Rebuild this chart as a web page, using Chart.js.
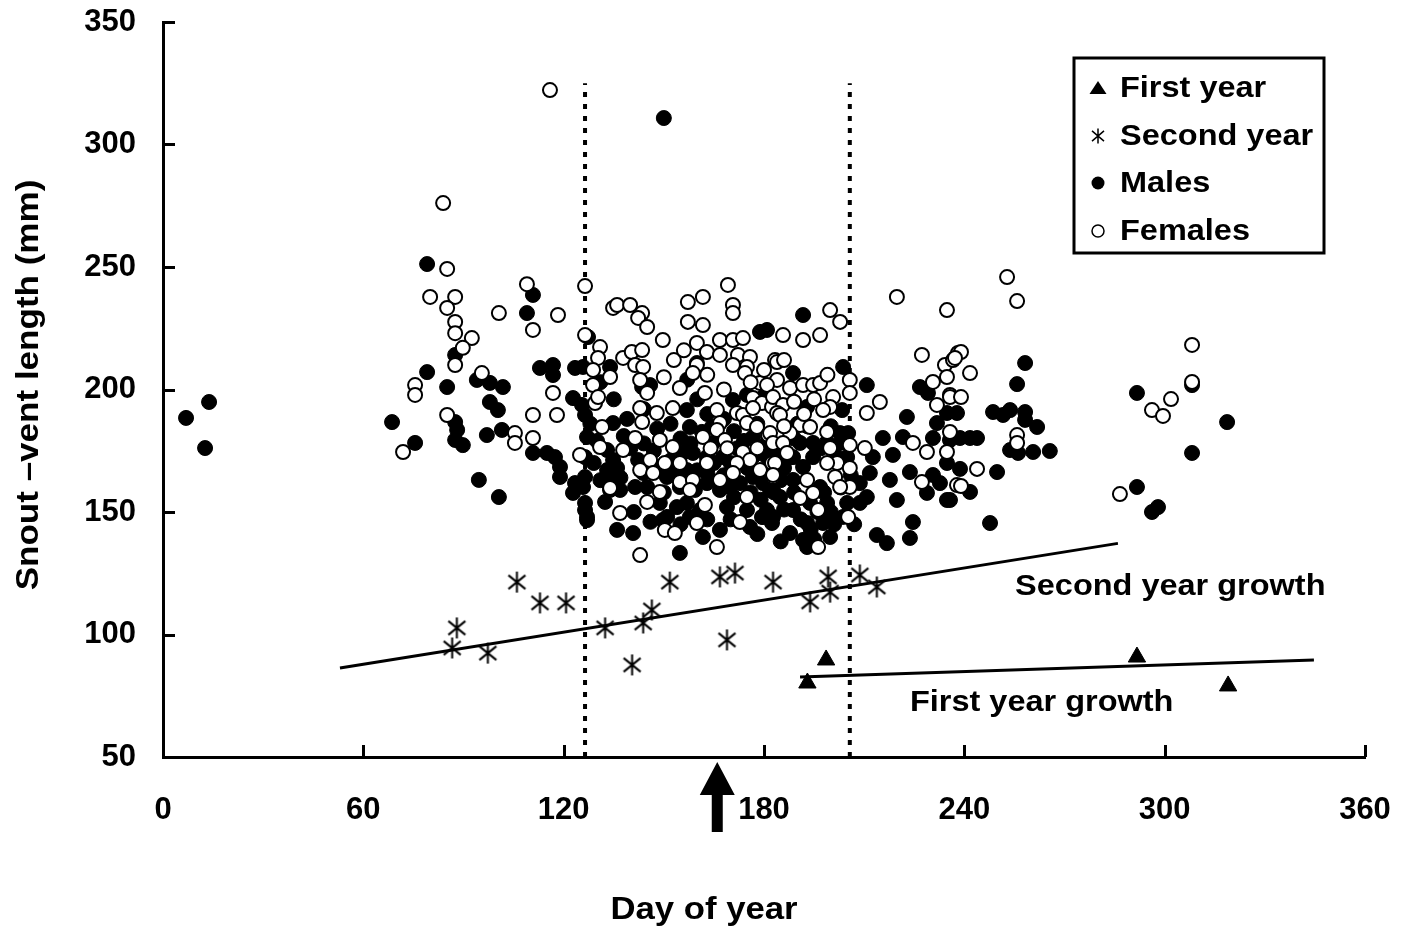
<!DOCTYPE html>
<html><head><meta charset="utf-8">
<script src="https://cdn.jsdelivr.net/npm/chart.js@4.4.1/dist/chart.umd.min.js"></script>
<style>html,body{margin:0;padding:0;background:#fff;}</style>
</head><body>
<canvas id="c" width="1408" height="928"></canvas>
<script>
// ---------- data ----------
const xTicks = [0, 60, 120, 180, 240, 300, 360];
const yTicks = [50, 100, 150, 200, 250, 300, 350];

const males = [
[6.9,188.4],[13.8,194.9],[12.6,176.1],[68.6,186.7],[75.5,178.2],[79.1,251.2],[79.1,207.1],[87.5,214.1],[85.1,201],[87.5,186.7],
[88.1,183.5],[87.5,179.4],[89.8,177.3],[94.6,163.1],[94,203.9],[97.9,202.7],[101.8,201],[97.9,194.9],[100.3,191.6],[97,181.4],
[101.5,183.5],[100.6,156.1],[110.8,238.6],[109,231.2],[112.9,208.8],[116.8,210],[116.8,205.9],[123.4,208.8],[122.8,196.5],[125.5,193.7],
[126.4,189.6],[110.8,174.1],[115,174.1],[117.4,172.4],[118.9,168.4],[118.9,164.3],[123.4,161.8],[122.8,157.8],[127,180.6],[126.4,150.8],
[127,146.7],[150,310.8],
[180.9,224.3],[178.8,223.5],[127.3,221.4],[125.8,209.2],[133.9,209.2],[134.8,186.3],[159.9,210.8],[143.5,201],[145.9,201.8],[156.9,191.6],
[170.7,195.7],[174.9,197.8],[157.8,184.7],[161.4,182.7],[164.4,184.7],[164.7,178.2],[155.7,174.1],[158.7,174.1],[162.9,172.4],[167.7,172.4],
[176.7,180.6],[180.9,178.2],[126.4,172.4],[133,175.3],[134.8,171.2],[133,167.1],[134.8,163.1],[142.3,171.2],[143.8,165.9],[126.4,164.3],
[125.8,160.2],[133.9,159],[136.9,159],[141.4,160.2],[145,160.2],[150.9,164.3],[153.9,167.1],[156.9,167.1],[154.8,160.2],[159.3,159],
[162.9,161.8],[166.8,159],[169.8,160.2],[172.8,161.8],[176.7,164.3],[179.7,161.8],[181.8,159],[148.8,153.7],[153.9,152],[156.9,153.7],
[160.8,150.8],[168.9,152],[174.9,150.8],[180.9,150.8],[132.4,154.1],[126.4,153.7],[127,148],[140.8,141.4],[136,142.7],[149.7,146.7],
[157.8,148],[161.7,139.8],[166.8,142.7],[175.8,143.9],[179.4,148],[182.4,145.5],[154.8,133.3],
[191.7,230.4],[203.7,209.2],[210.8,201.8],[188.7,206.7],[179.7,196.9],[192.9,192.9],[203.4,191.6],[205.2,182.2],[222.8,188.8],[215.6,180.2],
[221.6,180.6],[226.7,201],[229.1,198.6],[231.8,186.3],[237.8,190.4],[230.6,180.2],[235.7,179.4],[234.8,170],[230.6,165.1],[232.7,161.8],
[235.7,154.9],[228.8,157.8],[223.7,166.3],[217.7,163.1],[224.6,145.9],[223.7,139.4],[213.8,140.6],[216.8,137.3],[208.7,161.8],[211.7,165.9],
[212.6,172.4],[210.8,156.1],[208.7,153.7],[187.8,141.4],[191.7,138.6],[192.9,135.7],[199.8,139.8],[182.7,148],[179.7,148],[188.7,150.8],
[193.8,153.7],[198.9,153.7],[196.8,160.2],[188.7,163.1],[191.7,168.4],[194.7,172.4],[188.7,172.4],[180.9,172.4],[180.9,161.8],[202.8,182.2],
[202.8,178.2],[201.9,172.4],[204.9,172.4],[190.8,178.2],[194.7,178.2],[198.9,178.6],[184.8,156.1],[203.7,148],[197.7,145.5],[192.9,145.5],
[204.9,153.7],[218.6,173.3],[219.8,154.9],
[258.2,210.8],[255.8,202.2],[248.6,190.8],[253.7,191.6],[258.2,190.8],[258.2,187.6],[261.8,184.7],[251.6,189.6],[238.7,180.2],[241.7,180.2],
[243.8,180.2],[253.7,175.3],[256.1,174.1],[260.6,174.5],[265.6,174.9],[238.7,167.6],[249.8,166.3],[241.7,158.2],[234.8,154.9],[247.7,145.5],
[291.7,198.6],[291.7,160.2],[234.8,190.4],[318.7,186.7],[308.2,174.1],[308.2,201.8],[296.2,150],[298,152],
[129,170],[131,163],[136,168],[138,181],[140,176],[144,178],[147,175],[149,168],[150,158],[152,171],
[155,180],[158,178],[160,167],[163,166],[165,170],[168,165],[170,170],[172,176],[175,168],[177,173],
[179,155],[183,158],[185,163],[186,168],[189,158],[191,147],[194,143],[196,150],[198,158],[200,150],
[201,145],[203,160],[206,165],[207,145],[189,180],[193,185],[197,176],[200,185],[186,151],[184,175],
[178,186],[174,179],[171,183],[168,188],[163,190],[160,196],[157,204],[152,186],[148,184],[144,192],
[139,188],[135,196],[131,203],[128,186],[130,179],[137,164],[141,150],[146,146],[151,148],[155,145],
[163,147],[170,147],[178,141],[185,138],[195,139],[171,156],[176,158],[187,172],[190,186]
];

const females = [
[80,237.8],[87.5,237.8],[85.1,233.3],[87.5,227.6],[87.5,223],[92.5,221],[89.8,217],[87.5,210],[75.5,201.8],[75.5,197.8],
[95.5,206.7],[85.1,189.6],[105.4,182.2],[105.4,178.2],[110.8,180.2],[110.8,189.6],[118,189.6],[116.8,198.6],[100.6,231.2],[110.8,224.3],
[118.3,230.4],[126.4,222.2],[71.9,174.5],[124.9,173.3],[115.9,322.2],[83.9,276.1],[85.1,249.2],[109,243],[126.4,242.2],
[134.8,233.3],[136,234.5],[139.9,234.5],[143.5,231.2],[142.3,229.2],[145,225.5],[130.9,217.3],[133.9,205.1],[130.3,212.9],[128.8,208],
[137.8,212.9],[140.4,215.3],[143.5,216.1],[141.4,210],[143.8,209.2],[142.9,203.9],[145,198.6],[128.8,201.8],[129.4,194.5],[130.3,196.9],
[149.7,220.2],[154.8,200.6],[142.9,192.4],[143.5,186.7],[147.9,190.4],[152.7,192.4],[131.5,184.7],[141.4,180.2],[148.8,179.4],[152.7,176.5],
[130.9,176.5],[137.8,175.3],[145.9,171.2],[142.9,167.1],[146.8,165.9],[150.3,170],[154.8,162.2],[148.8,158.2],[145,154.1],[133.9,159.8],
[136.9,149.6],[150.3,142.7],[153.3,141.4],[142.9,132.4],[157.2,235.7],[161.7,237.8],[157.2,227.6],[161.7,226.3],[169.2,242.7],[170.7,234.5],
[170.7,231.2],[159.9,219],[162.9,215.3],[166.8,220.2],[166.8,214.1],[170.7,220.2],[173.7,221],[172.2,214.1],[175.8,213.3],[174.9,209.2],
[170.7,210],[174.3,206.7],[159.9,210],[158.7,206.7],[178.8,202.7],[162.3,198.6],[165.9,191.6],[166.8,186.3],[171.9,190.4],[173.7,189.6],
[176.7,196.5],[179.4,194.5],[176.7,192.4],[174.9,186.3],[177.9,184.7],[182.4,192.9],[183.3,212],[165.9,183.5],[161.7,180.6],[168.3,179.4],
[173.7,174.5],[175.8,171.2],[171.9,170],[178.8,167.1],[181.2,181.4],[182.4,170],[182.7,164.3],[162.9,170],[158.7,163.1],[166.8,163.1],
[170.7,165.9],[174.9,156.1],[157.8,159],[162.3,152.9],[159.9,145.5],[172.8,145.9],[165.9,135.7],[154.8,170],
[219.8,237.8],[234.8,232.4],[199.8,232.4],[202.8,227.6],[185.7,222.2],[191.7,220.2],[196.8,222.2],[183.9,211.2],[227.3,214.1],[234.2,210],
[238.1,214.9],[236.6,212],[230.6,203.1],[234.8,205.1],[235.7,197.8],[231.8,193.7],[214.7,194.9],[210.8,190.4],[183.9,203.9],[180.9,201.8],
[187.8,200.6],[191.7,201.8],[194.7,201.8],[196.8,202.7],[205.7,203.9],[205.7,198.6],[182.7,196.9],[185.7,193.7],[183.9,190.4],[184.8,189.6],
[200.7,196.9],[199.8,192.9],[197.7,191.6],[190.8,185.5],[193.8,184.7],[187.8,182.2],[181.8,182.2],[198.9,182.7],[182.7,178.2],[185.7,178.2],
[186.9,174.1],[183.3,170],[182.7,165.1],[199.8,176.1],[201.9,170],[198.9,170],[201.3,164.3],[205.7,177.3],[210.2,176.1],[228.8,174.5],
[234.8,174.5],[224.6,178.2],[235.7,182.7],[227.3,162.2],[205.7,168],[205.7,160.2],[192.9,163.1],[194.7,157.8],[190.8,155.7],[202.8,160.2],
[196.2,150.8],[205.2,148],[196.2,135.7],[237.8,161],
[252.8,245.9],[255.8,236.1],[239,215.3],[237.2,212.9],[241.7,206.7],[235.7,196.9],[239,196.9],[255.8,181.4],[255.8,178.2],[243.8,167.6],
[239,160.6],[286.6,157.3],[308.2,218.2],[308.2,203.1],[301.9,196.1],[296.2,191.6],[299.5,189.2],
[150,205],[153,212],[156,216],[163,206],[168,200],[176,203],[180,208],[186,212],[189,195],[164,176],
[169,176],[178,176],[186,185],[192,190],[195,196],[199,206]
];

const secondYear = [
[88,102.7],[86.6,94.5],[97.3,92.4],[106,121.4],[112.9,112.9],[120.7,112.9],[132.4,102.7],[140.5,87.6],[143.8,104.7],[146.4,110],
[151.8,121.4],[166.8,123.5],[171.3,125.1],[168.9,97.8],[182.7,121.4],[193.8,113.3],[199.2,123.5],[199.8,117.3],[208.7,124.3],[213.8,119.4]
];
const firstYear = [[193,80.2],[198.6,89.6],[291.7,90.8],[319,79]];

const secondYearGrowth = [[53,86.3],[286,137.2]];
const firstYearGrowth = [[190.8,82.7],[344.7,89.6]];
const periodBounds = [126.4, 205.7];
const periodRange = [50, 325];
const arrowDay = 166;

const legendLabels = ['First year', 'Second year', 'Males', 'Females'];
const growthLabels = [
  {text: 'Second year growth', day: 255.2, svl: 119.4},
  {text: 'First year growth', day: 223.7, svl: 72}
];
const xTitle = 'Day of year';
const yTitle = 'Snout \u2013vent length (mm)';

// ---------- helpers ----------
const FONT = '"Liberation Sans", Arial, Helvetica, sans-serif';
const toPts = arr => arr.map(p => ({x: p[0], y: p[1]}));

function makeStar(w, h, lw) {
  const c = document.createElement('canvas');
  c.width = w; c.height = h;
  const g = c.getContext('2d');
  drawStar(g, w / 2, h / 2, w, h, lw);
  return c;
}
function drawStar(g, cx, cy, w, h, lw) {
  g.save();
  g.strokeStyle = '#000'; g.lineWidth = lw; g.lineCap = 'butt';
  g.beginPath();
  g.moveTo(cx, cy - h / 2 + 1); g.lineTo(cx, cy + h / 2 - 1);
  g.moveTo(cx - w / 2 + 2, cy - h * 0.3); g.lineTo(cx + w / 2 - 2, cy + h * 0.3);
  g.moveTo(cx - w / 2 + 2, cy + h * 0.3); g.lineTo(cx + w / 2 - 2, cy - h * 0.3);
  g.stroke();
  g.restore();
}
function stretchText(ctx, text, x, y, size, sx, align, rot) {
  ctx.save();
  ctx.translate(x, y);
  if (rot) ctx.rotate(rot);
  ctx.scale(sx, 1);
  ctx.font = 'bold ' + size + 'px ' + FONT;
  ctx.fillStyle = '#000';
  ctx.textAlign = align;
  ctx.textBaseline = 'middle';
  ctx.fillText(text, 0, 0);
  ctx.restore();
}

const starImg = makeStar(21, 23, 2);

const bgPlugin = {
  id: 'bg',
  beforeDraw(chart) {
    const ctx = chart.ctx;
    ctx.save(); ctx.fillStyle = '#fff'; ctx.fillRect(0, 0, chart.width, chart.height); ctx.restore();
  }
};

const decoPlugin = {
  id: 'deco',
  afterDraw(chart) {
    const ctx = chart.ctx, ca = chart.chartArea;
    const xs = chart.scales.x, ys = chart.scales.y;
    ctx.save();
    // inward tick marks
    ctx.strokeStyle = '#000'; ctx.lineWidth = 3;
    ctx.beginPath();
    xTicks.forEach(v => { const px = Math.round(xs.getPixelForValue(v)) + 0.5; ctx.moveTo(px, ca.bottom); ctx.lineTo(px, ca.bottom - 12); });
    yTicks.forEach(v => { const py = Math.round(ys.getPixelForValue(v)) + 0.5; ctx.moveTo(ca.left, py); ctx.lineTo(ca.left + 12, py); });
    ctx.stroke();

    // arrow under the x axis
    const ax = xs.getPixelForValue(arrowDay), b = ca.bottom;
    ctx.fillStyle = '#000';
    ctx.beginPath();
    ctx.moveTo(ax, b + 5);
    ctx.lineTo(ax + 17.5, b + 38);
    ctx.lineTo(ax + 5.5, b + 38);
    ctx.lineTo(ax + 5.5, b + 75);
    ctx.lineTo(ax - 5.5, b + 75);
    ctx.lineTo(ax - 5.5, b + 38);
    ctx.lineTo(ax - 17.5, b + 38);
    ctx.closePath();
    ctx.fill();

    // growth labels
    growthLabels.forEach(g => {
      stretchText(ctx, g.text, xs.getPixelForValue(g.day), ys.getPixelForValue(g.svl), 29, 1.12, 'left');
    });

    // axis titles
    stretchText(ctx, xTitle, chart.width / 2, 910, 31, 1.12, 'center');
    stretchText(ctx, yTitle, 29, 385, 31, 1.13, 'center', -Math.PI / 2);

    // legend
    const L = ca.right - 291, T = ca.top + 36, W = 250, H = 195;
    ctx.fillStyle = '#fff';
    ctx.fillRect(L, T, W, H);
    ctx.strokeStyle = '#000'; ctx.lineWidth = 3;
    ctx.strokeRect(L, T, W, H);
    const mx = L + 24, tx = L + 46;
    const rows = [T + 30, T + 78, T + 125, T + 173];
    ctx.fillStyle = '#000';
    ctx.beginPath();
    ctx.moveTo(mx, rows[0] - 7); ctx.lineTo(mx + 8.5, rows[0] + 6); ctx.lineTo(mx - 8.5, rows[0] + 6); ctx.closePath(); ctx.fill();
    drawStar(ctx, mx, rows[1], 16, 17, 1.5);
    ctx.beginPath(); ctx.arc(mx, rows[2], 6.5, 0, Math.PI * 2); ctx.fill();
    ctx.lineWidth = 1.5;
    ctx.beginPath(); ctx.arc(mx, rows[3], 6, 0, Math.PI * 2); ctx.stroke();
    legendLabels.forEach((t, i) => stretchText(ctx, t, tx, rows[i] + 1, 29, 1.12, 'left'));
    ctx.restore();
  }
};

new Chart(document.getElementById('c'), {
  type: 'scatter',
  data: {
    datasets: [
      {label: 'Second year growth', data: toPts(secondYearGrowth), showLine: true, borderColor: '#000', borderWidth: 3, pointRadius: 0, order: 6},
      {label: 'First year growth', data: toPts(firstYearGrowth), showLine: true, borderColor: '#000', borderWidth: 3, pointRadius: 0, order: 6},
      {label: 'start', data: periodRange.map(v => ({x: periodBounds[0], y: v})), showLine: true, borderColor: '#000', borderWidth: 4, borderDash: [5, 7], borderCapStyle: 'butt', pointRadius: 0, order: 7},
      {label: 'end', data: periodRange.map(v => ({x: periodBounds[1], y: v})), showLine: true, borderColor: '#000', borderWidth: 4, borderDash: [5, 7], borderCapStyle: 'butt', pointRadius: 0, order: 7},
      {label: 'Males', data: toPts(males), pointStyle: 'circle', pointRadius: 7.5, backgroundColor: '#000', borderColor: '#000', borderWidth: 1, order: 4},
      {label: 'Females', data: toPts(females), pointStyle: 'circle', pointRadius: 7, backgroundColor: '#fff', borderColor: '#000', borderWidth: 2, order: 3},
      {label: 'Second year', data: toPts(secondYear), pointStyle: starImg, pointRadius: 10, order: 2},
      {label: 'First year', data: toPts(firstYear), pointStyle: 'triangle', pointRadius: 10, backgroundColor: '#000', borderColor: '#000', borderWidth: 1, order: 1}
    ]
  },
  options: {
    responsive: false,
    animation: false,
    devicePixelRatio: 1,
    events: [],
    layout: {padding: {top: 22, right: 43, left: 0, bottom: 0}},
    plugins: {legend: {display: false}, tooltip: {enabled: false}},
    scales: {
      x: {
        type: 'linear', min: 0, max: 360,
        afterBuildTicks: s => { s.ticks = xTicks.map(v => ({value: v})); },
        afterFit: s => { s.height = 171; s.paddingLeft = 0; s.paddingRight = 0; },
        grid: {display: false, drawTicks: false},
        border: {display: true, width: 3, color: '#000'},
        ticks: {padding: 35, color: '#000', maxRotation: 0, font: {family: FONT, size: 31, weight: 'bold'}}
      },
      y: {
        type: 'linear', min: 50, max: 350,
        afterBuildTicks: s => { s.ticks = yTicks.map(v => ({value: v})); },
        afterFit: s => { s.width = 163; s.paddingTop = 0; s.paddingBottom = 0; },
        grid: {display: false, drawTicks: false},
        border: {display: true, width: 3, color: '#000'},
        ticks: {padding: 27, color: '#000', font: {family: FONT, size: 31, weight: 'bold'}}
      }
    }
  },
  plugins: [bgPlugin, decoPlugin]
});
</script>
</body></html>
